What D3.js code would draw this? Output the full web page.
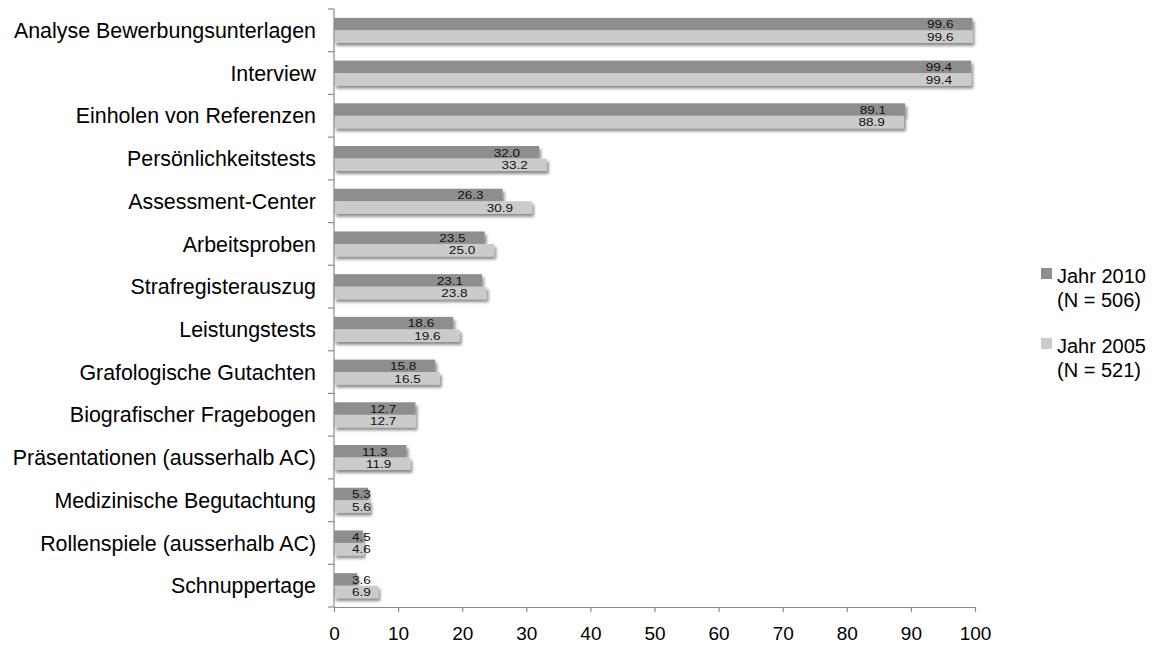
<!DOCTYPE html>
<html>
<head>
<meta charset="utf-8">
<script src="https://cdn.jsdelivr.net/npm/d3@7"></script>
<style>
  html, body { margin: 0; padding: 0; background: #fff; }
  svg { display: block; font-family: "Liberation Sans", Arial, sans-serif; }
</style>
</head>
<body>
<svg id="chart" width="1155" height="645"></svg>
<script>
// Selection methods, share of companies using each (percent)
const categories = [
  "Analyse Bewerbungsunterlagen",
  "Interview",
  "Einholen von Referenzen",
  "Persönlichkeitstests",
  "Assessment-Center",
  "Arbeitsproben",
  "Strafregisterauszug",
  "Leistungstests",
  "Grafologische Gutachten",
  "Biografischer Fragebogen",
  "Präsentationen (ausserhalb AC)",
  "Medizinische Begutachtung",
  "Rollenspiele (ausserhalb AC)",
  "Schnuppertage"
];
const values2010 = [99.6, 99.4, 89.1, 32.0, 26.3, 23.5, 23.1, 18.6, 15.8, 12.7, 11.3, 5.3, 4.5, 3.6];
const values2005 = [99.6, 99.4, 88.9, 33.2, 30.9, 25.0, 23.8, 19.6, 16.5, 12.7, 11.9, 5.6, 4.6, 6.9];
const seriesNames = ["Jahr 2010", "Jahr 2005"];
const seriesNotes = ["(N = 506)", "(N = 521)"];
const xTicks = [0, 10, 20, 30, 40, 50, 60, 70, 80, 90, 100];

const series = [
  { name: seriesNames[0], note: seriesNotes[0], values: values2010, color: "#8e8e8e" },
  { name: seriesNames[1], note: seriesNotes[1], values: values2005, color: "#cbcbcb" }
];

const svg = d3.select("#chart");
const plot = { left: 334, right: 975, top: 9, bottom: 607 };

const x = d3.scaleLinear().domain([0, 100]).range([plot.left, plot.right]);
const y = d3.scaleBand().domain(categories).range([plot.top, plot.bottom]).padding(0);
const ySeries = d3.scaleBand().domain(seriesNames).range([0, y.bandwidth()]).paddingInner(0).paddingOuter(0.71);

// soft drop shadow under the bars
const defs = svg.append("defs");
const filt = defs.append("filter").attr("id", "shadow")
  .attr("x", "-5%").attr("y", "-40%").attr("width", "115%").attr("height", "200%");
filt.append("feGaussianBlur").attr("in", "SourceAlpha").attr("stdDeviation", 1.6).attr("result", "blur");
filt.append("feOffset").attr("in", "blur").attr("dx", 2).attr("dy", 3).attr("result", "off");
filt.append("feComponentTransfer").attr("in", "off").attr("result", "offA")
  .append("feFuncA").attr("type", "linear").attr("slope", 0.45);
const merge = filt.append("feMerge");
merge.append("feMergeNode").attr("in", "offA");
merge.append("feMergeNode").attr("in", "SourceGraphic");

// bars
const groups = svg.append("g").selectAll("g.cat")
  .data(categories)
  .join("g")
  .attr("class", "cat")
  .attr("transform", d => `translate(0,${y(d)})`);

const barData = (c, i) => series.map(s => ({ cat: c, name: s.name, value: s.values[i], color: s.color }));

groups.append("g").attr("filter", "url(#shadow)")
  .selectAll("rect")
  .data((c, i) => barData(c, i))
  .join("rect")
  .attr("x", x(0))
  .attr("y", d => ySeries(d.name))
  .attr("width", d => x(d.value) - x(0))
  .attr("height", ySeries.bandwidth())
  .attr("fill", d => d.color);

// value labels near the bar end (slightly widened digits)
const labelStretch = 1.15;
groups.selectAll("text.val")
  .data((c, i) => barData(c, i))
  .join("text")
  .attr("class", "val")
  .attr("dy", "0.36em")
  .attr("font-size", 11.8)
  .attr("fill", "#111")
  .attr("text-anchor", "end")
  .text(d => d.value.toFixed(1))
  .each(function (d) {
    const w = this.getComputedTextLength() * labelStretch;
    const right = Math.max(x(d.value) - 19, x(0) + 18 + w);
    const cy = ySeries(d.name) + ySeries.bandwidth() / 2;
    d3.select(this).attr("transform", `translate(${right},${cy}) scale(${labelStretch},1)`);
  });

// x axis
const xAxis = svg.append("g")
  .attr("transform", `translate(0,${plot.bottom})`)
  .call(d3.axisBottom(x).tickValues(xTicks).tickSize(5).tickSizeOuter(0).tickPadding(15));
xAxis.select(".domain").attr("stroke", "#8a8a8a").attr("stroke-width", 1.2);
xAxis.selectAll(".tick line").attr("stroke", "#8a8a8a").attr("stroke-width", 1.2);
xAxis.selectAll(".tick text").attr("font-size", 19).attr("fill", "#000")
  .attr("font-family", "'Liberation Sans', Arial, sans-serif");

// y axis line with ticks at the category boundaries
const yAxisG = svg.append("g");
yAxisG.append("line")
  .attr("x1", plot.left).attr("x2", plot.left)
  .attr("y1", plot.top).attr("y2", plot.bottom)
  .attr("stroke", "#8a8a8a").attr("stroke-width", 1.2);
const boundaries = categories.map(c => y(c)).concat([plot.bottom]);
yAxisG.selectAll("line.tk")
  .data(boundaries)
  .join("line")
  .attr("class", "tk")
  .attr("x1", plot.left - 6).attr("x2", plot.left)
  .attr("y1", d => d).attr("y2", d => d)
  .attr("stroke", "#8a8a8a").attr("stroke-width", 1.2);

// category labels
svg.append("g").selectAll("text")
  .data(categories)
  .join("text")
  .attr("x", 316)
  .attr("y", d => y(d) + y.bandwidth() / 2)
  .attr("dy", "0.36em")
  .attr("text-anchor", "end")
  .attr("font-size", 21.4)
  .attr("fill", "#000")
  .text(d => d);

// legend
const legend = svg.append("g").selectAll("g")
  .data(series)
  .join("g")
  .attr("transform", (d, i) => `translate(1041,${268 + i * 70})`);
legend.append("rect")
  .attr("width", 11).attr("height", 11)
  .attr("fill", d => d.color);
legend.append("text")
  .attr("x", 16).attr("y", 15)
  .attr("font-size", 20).attr("fill", "#000")
  .text(d => d.name);
legend.append("text")
  .attr("x", 16).attr("y", 39)
  .attr("font-size", 20).attr("fill", "#000")
  .text(d => d.note);
</script>
</body>
</html>
